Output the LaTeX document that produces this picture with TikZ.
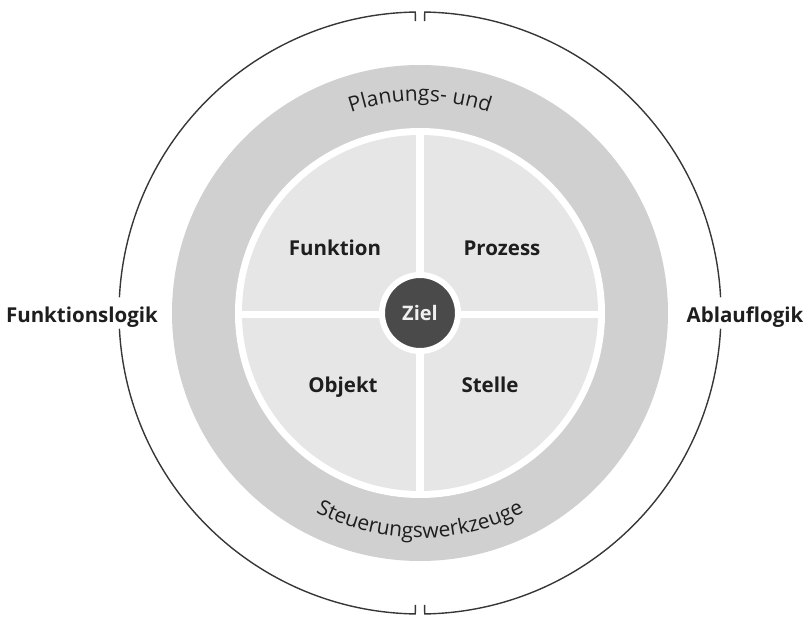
\documentclass[tikz,border=0pt]{standalone}
\usepackage{fontspec}
\setmainfont{Open Sans}
\usetikzlibrary{decorations.text}
\definecolor{ringgray}{RGB}{208,208,208}
\definecolor{fieldgray}{RGB}{230,230,230}
\definecolor{goaldark}{RGB}{74,74,74}
\definecolor{linegray}{RGB}{55,55,55}
\definecolor{textdark}{RGB}{30,30,30}

\begin{document}
\begin{tikzpicture}[x=1pt,y=1pt,
  label/.style={anchor=base,text=textdark,font=\bfseries\fontsize{20.5}{24}\selectfont},
  rim/.style={linegray,line width=1.4pt}]
  \useasboundingbox (-420,-303) rectangle (386,313);
  \coordinate (O) at (0,0);
  % rings and quadrants
  \fill[ringgray] (O) circle[radius=248];
  \fill[white] (O) circle[radius=185];
  \fill[fieldgray] (O) circle[radius=178];
  \draw[white,line width=7pt] (-180,-1) -- (180,-1);
  \draw[white,line width=8pt] (0,-180) -- (0,180);
  \node[circle,fill=goaldark,draw=white,line width=6pt,minimum size=76pt,inner sep=0pt,
        text=white!94!black,font=\bfseries\fontsize{20}{24}\selectfont] (ziel) at (O) {Ziel};
  % outer circle, split top/bottom and at the side labels
  \draw[rim] (90.9:292) -- (90.9:301) arc[start angle=90.9,end angle=177,radius=301];
  \draw[rim] (183:301) arc[start angle=183,end angle=269.1,radius=301] -- (269.1:292);
  \draw[rim] (270.9:292) -- (270.9:301) arc[start angle=270.9,end angle=357,radius=301];
  \draw[rim] (3:301) arc[start angle=3,end angle=89.1,radius=301] -- (89.1:292);
  % labels
  \node[label] (funktion) at (-85,58) {Funktion};
  \node[label] (prozess) at (82,58) {Prozess};
  \node[label] (objekt) at (-77,-79) {Objekt};
  \node[label] (stelle) at (70,-79) {Stelle};
  \node[label] (funktionslogik) at (-338,-9) {Funktionslogik};
  \node[label] (ablauflogik) at (325,-9) {Ablauflogik};
  \path[decorate,decoration={text along path,text align=center,
    text={|\color{textdark}\fontsize{21}{24}\selectfont|Planungs- und}}]
    (150:212) arc[start angle=150,end angle=30,radius=212];
  \path[decorate,decoration={text along path,text align=center,
    text={|\color{textdark}\fontsize{21}{24}\selectfont|Steuerungswerkzeuge}}]
    (210:225) arc[start angle=210,end angle=330,radius=225];
\end{tikzpicture}
\end{document}
